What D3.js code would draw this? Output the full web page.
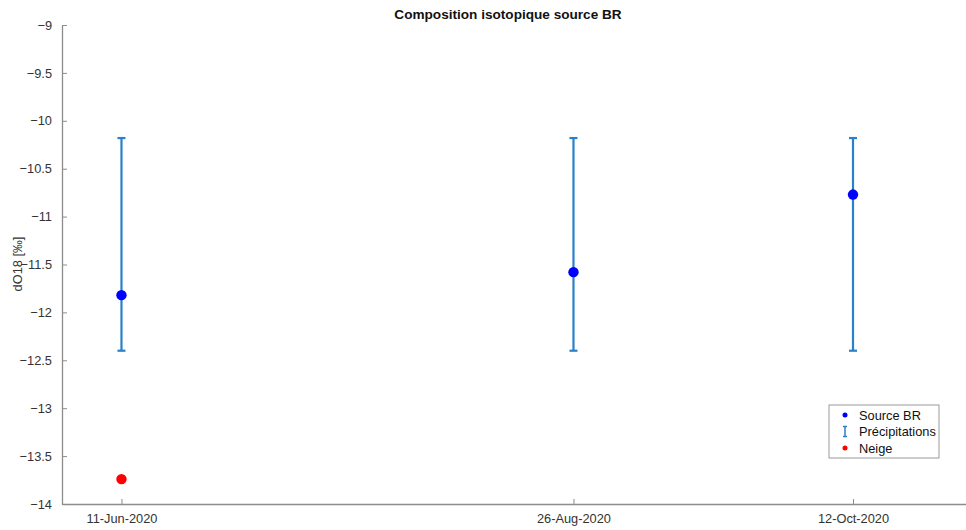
<!DOCTYPE html>
<html><head><meta charset="utf-8">
<script src="https://cdn.jsdelivr.net/npm/d3@7"></script>
<style>body{margin:0;background:#fff}svg{display:block}text{font-family:"Liberation Sans",Arial,sans-serif}</style>
</head><body>
<svg id="c" width="966" height="530"></svg>
<script>
const dates = ["2020-06-11","2020-08-26","2020-10-12"];
const dateLabels = ["11-Jun-2020","26-Aug-2020","12-Oct-2020"];
const sourceBR = [-11.82,-11.58,-10.77];
const precipLow = [-12.40,-12.40,-12.40];
const precipHigh = [-10.18,-10.18,-10.18];
const neigeDate = ["2020-06-11"];
const neigeVal = [-13.74];
const yTicks = [-14,-13.5,-13,-12.5,-12,-11.5,-11,-10.5,-10,-9.5,-9];

const parse = d3.utcParse("%Y-%m-%d");
const svg = d3.select("#c");
const x = d3.scaleUtc().domain([parse("2020-06-01"), parse("2020-10-31")]).range([62, 966]);
const y = d3.scaleLinear().domain([-14, -9]).range([504, 25]);
const axisCol = "#8c8c8c", textCol = "#333";

// axes
const ya = svg.append("g").attr("transform","translate(62,0)")
  .call(d3.axisLeft(y).tickValues(yTicks).tickFormat(d=>d3.format("")(d)).tickSizeInner(-5).tickSizeOuter(0).tickPadding(10));
const xa = svg.append("g").attr("transform","translate(0,504)")
  .call(d3.axisBottom(x).tickValues(dates.map(parse)).tickFormat((d,i)=>dateLabels[i]).tickSizeInner(-5).tickSizeOuter(0).tickPadding(10));
[ya,xa].forEach(g=>{
  g.select(".domain").attr("stroke",axisCol).attr("stroke-width",1.3);
  g.selectAll(".tick line").attr("stroke",axisCol);
  g.selectAll(".tick text").attr("fill",textCol).attr("font-size",12.8);
});

// error bars
const eb = svg.append("g").attr("stroke","#2a80cb").attr("stroke-width",2.2);
dates.forEach((d,i)=>{
  const cx = x(parse(d));
  eb.append("line").attr("x1",cx).attr("x2",cx).attr("y1",y(precipLow[i])).attr("y2",y(precipHigh[i]));
  eb.append("line").attr("x1",cx-4).attr("x2",cx+4).attr("y1",y(precipLow[i])).attr("y2",y(precipLow[i]));
  eb.append("line").attr("x1",cx-4).attr("x2",cx+4).attr("y1",y(precipHigh[i])).attr("y2",y(precipHigh[i]));
});
// source points
svg.append("g").selectAll("circle").data(sourceBR).join("circle")
  .attr("cx",(d,i)=>x(parse(dates[i]))).attr("cy",d=>y(d)).attr("r",5.2).attr("fill","#0000ff");
// neige
svg.append("g").selectAll("circle").data(neigeVal).join("circle")
  .attr("cx",(d,i)=>x(parse(neigeDate[i]))).attr("cy",d=>y(d)).attr("r",5.2).attr("fill","#ff0000");

// title and y label
svg.append("text").attr("x",508).attr("y",19).attr("text-anchor","middle").attr("font-size",13.6).attr("font-weight","bold").attr("fill","#111").text("Composition isotopique source BR");
svg.append("text").attr("transform","translate(22,264) rotate(-90)").attr("text-anchor","middle").attr("font-size",12.8).attr("fill",textCol).text("dO18 [‰]");

// legend
const lg = svg.append("g").attr("transform","translate(829,405)");
lg.append("rect").attr("x",0).attr("y",0).attr("width",110).attr("height",53).attr("fill","#fff").attr("stroke","#999").attr("stroke-width",1);
const items = ["Source BR","Précipitations","Neige"];
items.forEach((t,i)=>{
  const cy = 10 + i*16.5;
  if(i===0) lg.append("circle").attr("cx",16).attr("cy",cy).attr("r",2.5).attr("fill","#0000ff");
  if(i===2) lg.append("circle").attr("cx",16).attr("cy",cy).attr("r",2.5).attr("fill","#ff0000");
  if(i===1){
    const g=lg.append("g").attr("stroke","#2a80cb").attr("stroke-width",1.5);
    g.append("line").attr("x1",16).attr("x2",16).attr("y1",cy-5).attr("y2",cy+5);
    g.append("line").attr("x1",14).attr("x2",18).attr("y1",cy-5).attr("y2",cy-5);
    g.append("line").attr("x1",14).attr("x2",18).attr("y1",cy+5).attr("y2",cy+5);
  }
  lg.append("text").attr("x",30).attr("y",cy+4.5).attr("font-size",12.8).attr("fill","#111").text(t);
});
</script>
</body></html>
